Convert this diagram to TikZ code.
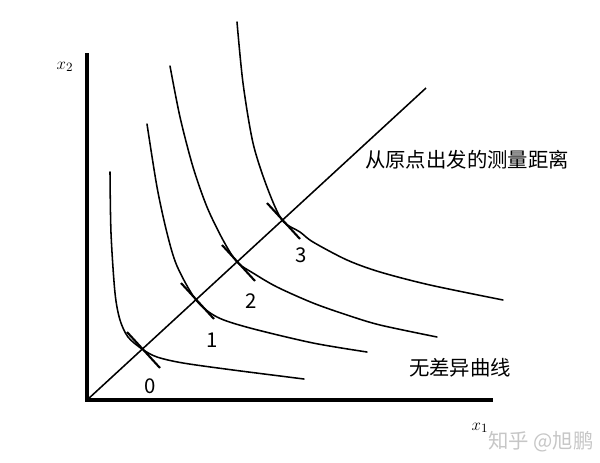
\documentclass[tikz,border=0pt]{standalone}
\usepackage{fontspec}
\newfontfamily\cjk{Noto Sans CJK SC}
\usepackage{tikz}
\tikzset{
axis/.style={line width=2.5pt},
curve/.style={line width=1.1pt,line cap=round},
ray/.style={line width=1.1pt},
tickmark/.style={line width=1.5pt},
lbl/.style={font=\cjk\fontsize{14.5}{17}\selectfont,inner sep=0pt},
axlabel/.style={font=\fontsize{13}{15}\selectfont,inner sep=0pt},
}

\begin{document}
\begin{tikzpicture}[x=0.025cm,y=-0.025cm]
\useasboundingbox (0,0) rectangle (600,462);
\coordinate (o) at (87,400);
\coordinate (ytop) at (87,53);
\coordinate (xend) at (493,400);
\coordinate (rend) at (426,88);
% the crossing points
\coordinate (p0) at (142,349);
\coordinate (p1) at (196,300);
\coordinate (p2) at (237,262);
\coordinate (p3) at (282,220);
% the axes
\draw[axis] (ytop) -- (o) -- (xend);
\node[axlabel] (xtwo) at (65,67) {$x_2$};
\node[axlabel] (xone) at (480,428) {$x_1$};
% the ray
\draw[ray] (o) -- (rend);
% the curves
\draw[curve] plot[smooth] coordinates {(110,172) (111,233) (115,293) (120,320) (128,337) (p0) (157,357) (183,363) (233,370) (304,379)};
\draw[curve] plot[smooth] coordinates {(147,124) (157,187) (167,233) (177,266) (p1) (217,317) (250,328) (313,343) (367,352)};
\draw[curve] plot[smooth] coordinates {(170,66) (180,117) (193,167) (207,207) (223,240) (p2) (253,273) (277,287) (313,303) (347,315) (380,325) (437,337)};
\draw[curve] plot[smooth] coordinates {(237,22) (243,83) (253,143) (267,187) (p3) (300,232) (313,242) (347,260) (380,272) (430,285) (503,300)};
% the ticks
\foreach \i in {0,...,3}
{
  \draw[tickmark]
    ([shift={(-15,-17)}]p\i) --
    ([shift={(18,19)}]p\i);
}
\foreach \i/\x/\y in {0/150/386,1/212/340,2/251/301,3/301/255}
{
  \node[lbl] (n\i) at (\x,\y) {\i};
}
% the texts
\node[lbl] (dist) at (467,160) {从原点出发的测量距离};
\node[lbl] (indiff) at (460,368) {无差异曲线};
\node[lbl,text=gray!45] (mark) at (541,442) {知乎 @旭鹏};
\end{tikzpicture}
\end{document}
